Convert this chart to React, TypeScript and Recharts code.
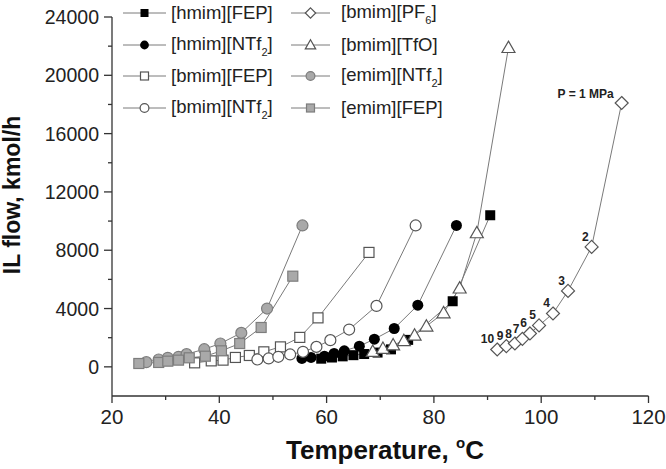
import React from 'react';
import { ComposedChart, Line, XAxis, YAxis, LabelList } from 'recharts';

// temperature (°C) and IL flow (kmol/h) per ionic liquid
const hmimFepT = [59.0, 61.0, 63.0, 65.0, 67.0, 69.5, 72.0, 75.2, 83.5, 90.5];
const hmimFepQ = [560, 640, 720, 800, 880, 980, 1200, 1850, 4500, 10400];

const hmimNtf2T = [55.4, 57.1, 59.6, 61.4, 63.3, 66.1, 68.9, 72.6, 77.0, 84.2];
const hmimNtf2Q = [575, 645, 734, 920, 1100, 1420, 1900, 2630, 4230, 9700];

const bmimFepT = [35.4, 38.5, 40.7, 43.0, 45.6, 48.3, 51.4, 55.0, 58.4, 67.9];
const bmimFepQ = [275, 410, 460, 645, 780, 1030, 1370, 2020, 3360, 7850];

const bmimNtf2T = [47.1, 49.2, 51.0, 53.2, 55.6, 58.1, 60.7, 64.2, 69.3, 76.6];
const bmimNtf2Q = [505, 575, 690, 850, 1030, 1370, 1830, 2560, 4180, 9700];

const bmimPf6T = [91.8, 93.5, 95.1, 96.5, 97.9, 99.6, 102.2, 105.0, 109.4, 115.0];
const bmimPf6Q = [1190, 1420, 1600, 1920, 2290, 2840, 3660, 5210, 8230, 18100];
const pressureLabels = ['10', '9', '8', '7', '6', '5', '4', '3', '2', 'P = 1 MPa'];

const bmimTfoT = [68.6, 70.5, 72.4, 74.4, 76.4, 78.6, 81.8, 84.8, 88.0, 93.9];
const bmimTfoQ = [1050, 1260, 1500, 1790, 2170, 2790, 3700, 5400, 9190, 21900];

const emimNtf2T = [26.4, 28.7, 30.4, 32.4, 33.9, 37.2, 40.2, 44.1, 48.9, 55.5];
const emimNtf2Q = [320, 505, 620, 690, 870, 1210, 1600, 2330, 4000, 9700];

const emimFepT = [25.0, 28.7, 30.4, 32.4, 34.4, 37.4, 40.4, 43.8, 47.8, 53.7];
const emimFepQ = [230, 300, 390, 460, 620, 730, 1100, 1600, 2700, 6220];

const xTicks = [20, 30, 40, 50, 60, 70, 80, 90, 100, 110, 120];
const yTicks = [0, 2000, 4000, 6000, 8000, 10000, 12000, 14000, 16000, 18000, 20000, 22000, 24000];

const build = (t: number[], q: number[], labels?: string[]) =>
  t.map((v, i) => ({ t: v, q: q[i], label: labels ? labels[i] : '' }));

const LINE = '#7a7a7a';
const EDGE = '#555';
const AXIS = '#333';
const FONT = '"Liberation Sans", Arial, sans-serif';

type Shape = 'sqF' | 'cirF' | 'sqO' | 'cirO' | 'dia' | 'tri' | 'cirG' | 'sqG';

const Marker = ({ shape, cx, cy, s = 1 }: { shape: Shape; cx: number; cy: number; s?: number }) => {
  const h = 5 * s;
  const r = 5.5 * s;
  switch (shape) {
    case 'sqF':
      return <rect x={cx - h} y={cy - h} width={2 * h} height={2 * h} fill="#000" />;
    case 'cirF':
      return <circle cx={cx} cy={cy} r={r} fill="#000" />;
    case 'sqO':
      return <rect x={cx - h} y={cy - h} width={2 * h} height={2 * h} fill="#fff" stroke={EDGE} strokeWidth={1.2} />;
    case 'cirO':
      return <circle cx={cx} cy={cy} r={r} fill="#fff" stroke={EDGE} strokeWidth={1.2} />;
    case 'dia': {
      const d = 6.5 * s;
      return (
        <polygon
          points={`${cx},${cy - d} ${cx + d},${cy} ${cx},${cy + d} ${cx - d},${cy}`}
          fill="#fff"
          stroke={EDGE}
          strokeWidth={1.2}
        />
      );
    }
    case 'tri': {
      const d = 6.5 * s;
      return (
        <polygon
          points={`${cx},${cy - d} ${cx + d},${cy + d * 0.75} ${cx - d},${cy + d * 0.75}`}
          fill="#fff"
          stroke={EDGE}
          strokeWidth={1.2}
        />
      );
    }
    case 'cirG':
      return <circle cx={cx} cy={cy} r={r} fill="#a9a9a9" stroke="#7d7d7d" strokeWidth={1.2} />;
    case 'sqG':
      return <rect x={cx - h} y={cy - h} width={2 * h} height={2 * h} fill="#a9a9a9" stroke="#7d7d7d" strokeWidth={1.2} />;
  }
  return null;
};

const dot = (shape: Shape) => (props: any) => {
  const { cx, cy, index } = props;
  if (cx == null || cy == null) return <g key={index} />;
  return (
    <g key={index}>
      <Marker shape={shape} cx={cx} cy={cy} />
    </g>
  );
};

const series: { name: string; sub?: string; shape: Shape; data: any[] }[] = [
  { name: '[hmim][FEP]', shape: 'sqF', data: build(hmimFepT, hmimFepQ) },
  { name: '[hmim][NTf', sub: '2', shape: 'cirF', data: build(hmimNtf2T, hmimNtf2Q) },
  { name: '[bmim][FEP]', shape: 'sqO', data: build(bmimFepT, bmimFepQ) },
  { name: '[bmim][NTf', sub: '2', shape: 'cirO', data: build(bmimNtf2T, bmimNtf2Q) },
  { name: '[bmim][PF', sub: '6', shape: 'dia', data: build(bmimPf6T, bmimPf6Q, pressureLabels) },
  { name: '[bmim][TfO]', shape: 'tri', data: build(bmimTfoT, bmimTfoQ) },
  { name: '[emim][NTf', sub: '2', shape: 'cirG', data: build(emimNtf2T, emimNtf2Q) },
  { name: '[emim][FEP]', shape: 'sqG', data: build(emimFepT, emimFepQ) },
];

const XTick = (props: any) => {
  const { x, y, payload } = props;
  const major = payload.value % 20 === 0;
  return (
    <g>
      <line x1={x} x2={x} y1={y} y2={y + (major ? 7 : 4)} stroke={AXIS} strokeWidth={1.3} />
      {major && (
        <text x={x} y={y + 28} textAnchor="middle" fontSize={20.5} fill="#222" fontFamily={FONT}>
          {payload.value}
        </text>
      )}
    </g>
  );
};

const YTick = (props: any) => {
  const { x, y, payload } = props;
  const major = payload.value % 4000 === 0;
  return (
    <g>
      <line x1={x} x2={x - (major ? 8 : 4)} y1={y} y2={y} stroke={AXIS} strokeWidth={1.3} />
      {major && (
        <text x={x - 13} y={y + 7} textAnchor="end" fontSize={19.5} fill="#222" fontFamily={FONT}>
          {payload.value}
        </text>
      )}
    </g>
  );
};

const PressureLabel = (props: any) => {
  const { x, y, value } = props;
  if (!value) return null;
  const isTop = value.length > 2;
  return (
    <text
      x={x - (isTop ? 8 : 3)}
      y={y - (isTop ? 5 : 6)}
      textAnchor="end"
      fontSize={12}
      fontWeight="bold"
      fill="#222"
      fontFamily={FONT}
    >
      {value}
    </text>
  );
};

const legendRows = [13.3, 44.5, 76, 108];

const LegendItem = ({ item, left, textLeft, lineW, top }: any) => (
  <div style={{ position: 'absolute', left, top: top - 12, height: 24, display: 'flex', alignItems: 'center' }}>
    <svg width={lineW} height={16} style={{ display: 'block' }}>
      <line x1={0} x2={lineW} y1={8} y2={8} stroke={LINE} strokeWidth={1} />
      <Marker shape={item.shape} cx={lineW / 2} cy={8} s={0.8} />
    </svg>
    <span
      style={{
        position: 'absolute',
        left: textLeft - left,
        whiteSpace: 'nowrap',
        fontSize: 18.5,
        color: '#222',
        fontFamily: FONT,
        lineHeight: '24px',
      }}
    >
      {item.name}
      {item.sub && (
        <span style={{ fontSize: 11, position: 'relative', top: 6 }}>{item.sub}</span>
      )}
      {item.sub && ']'}
    </span>
  </div>
);

export default function App() {
  return (
    <div style={{ position: 'absolute', left: 0, top: 0, width: 666, height: 469, background: '#fff', fontFamily: FONT }}>
      <ComposedChart width={666} height={469} margin={{ top: 17, right: 17.5, bottom: 0, left: 0 }}>
        <XAxis
          dataKey="t"
          type="number"
          domain={[20, 120]}
          ticks={xTicks}
          interval={0}
          height={73}
          tickSize={0}
          tickMargin={0}
          tickLine={false}
          tick={<XTick />}
          axisLine={{ stroke: AXIS, strokeWidth: 1.3 }}
          allowDuplicatedCategory={false}
        />
        <YAxis
          dataKey="q"
          type="number"
          domain={[-2000, 24000]}
          ticks={yTicks}
          interval={0}
          width={112}
          tickSize={0}
          tickMargin={0}
          tickLine={false}
          tick={<YTick />}
          axisLine={{ stroke: AXIS, strokeWidth: 1.3 }}
        />
        {series.map((s) => (
          <Line
            key={s.name + s.shape}
            data={s.data}
            dataKey="q"
            type="linear"
            stroke={LINE}
            strokeWidth={1}
            dot={dot(s.shape)}
            activeDot={false}
            isAnimationActive={false}
          >
            {s.shape === 'dia' && <LabelList dataKey="label" content={<PressureLabel />} />}
          </Line>
        ))}
      </ComposedChart>

      <svg width={666} height={469} style={{ position: 'absolute', left: 0, top: 0, pointerEvents: 'none' }}>
        <text
          x={20}
          y={195}
          transform="rotate(-90, 20, 195)"
          textAnchor="middle"
          fontSize={23}
          fontWeight="bold"
          fill="#111"
          fontFamily={FONT}
        >
          IL flow, kmol/h
        </text>
        <text x={385} y={459} textAnchor="middle" fontSize={26} fontWeight="bold" fill="#111" fontFamily={FONT}>
          Temperature,{' '}
          <tspan dy={-11} fontSize={15}>
            o
          </tspan>
          <tspan dy={11}>C</tspan>
        </text>
      </svg>

      {series.map((s, i) => {
        const col = i < 4 ? 0 : 1;
        const row = i % 4;
        return (
          <LegendItem
            key={'lg' + i}
            item={s}
            left={col === 0 ? 123 : 291}
            textLeft={col === 0 ? 171 : 341}
            lineW={col === 0 ? 43 : 39}
            top={legendRows[row]}
          />
        );
      })}
    </div>
  );
}
